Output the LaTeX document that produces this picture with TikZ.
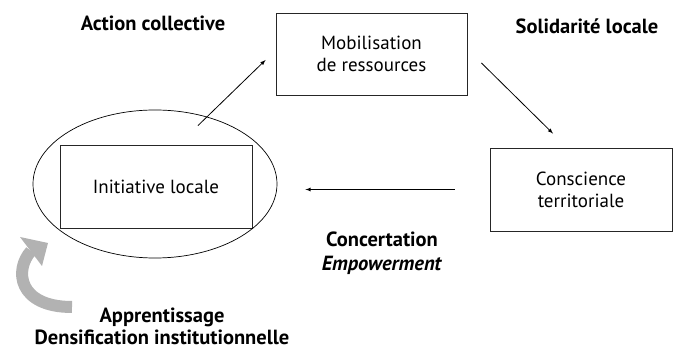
\documentclass[tikz,border=0pt]{standalone}
\usepackage{fontspec}
\setmainfont{PT Sans}
\usetikzlibrary{shapes.geometric}
\tikzset{
  box/.style={draw=black!85, line width=0.9pt, minimum width=#1, minimum height=83pt, align=center, font=\fontsize{19}{22}\selectfont},
  arr/.style={-latex, line width=0.8pt},
  lbl/.style={font=\bfseries\fontsize{20.5}{23.5}\selectfont, align=center}
}
\begin{document}
\begin{tikzpicture}[x=1pt,y=-1pt]
        \useasboundingbox (0,0) rectangle (673,352);
        \node[box=191pt, minimum height=82pt] (mob) at (371.5,54) {Mobilisation\\de ressources};
        \node[box=182pt] (con) at (581,189.5) {Conscience\\territoriale};
        \node[box=192pt] (ini) at (156,186.5) {Initiative locale};
        \node[draw, ellipse, line width=0.7pt, minimum width=244pt, minimum height=148pt] (ell) at (155,184) {};
        \draw[arr] ([xshift=42pt,yshift=19pt]ini.north) -- ([xshift=-10pt,yshift=-6pt]mob.west);
        \draw[arr] ([xshift=14pt,yshift=-9pt]mob.east) -- ([xshift=-28pt,yshift=14pt]con.north);
        \draw[arr] ([xshift=-35pt]con.west) -- ([xshift=53pt,yshift=-3pt]ini.east);
        \node[lbl] (act) at (153,23) {Action collective};
        \node[lbl] (sol) at (587,26) {Solidarité locale};
        \node[lbl] (conc) at (382,253) {Concertation\\\textit{Empowerment}};
        \node[lbl, font=\bfseries\fontsize{20.5}{22}\selectfont, inner sep=1pt] (app) at (162,326) {Apprentissage\\Densification institutionnelle};
        % fleche courbe
        \draw[line width=12pt, gray!60] (72,307) .. controls (18,307) and (14,270) .. (31,251);
        \fill[gray!60] (20,237) -- (48,243) -- (42,266) -- cycle;
    \end{tikzpicture}
\end{document}
